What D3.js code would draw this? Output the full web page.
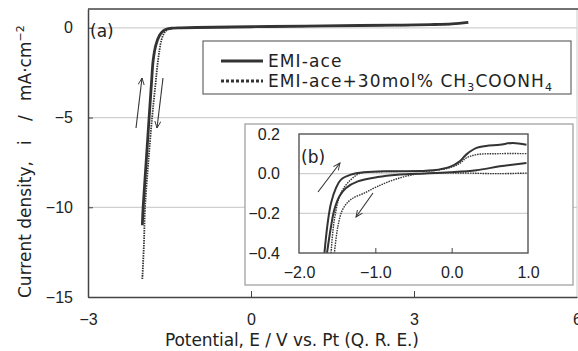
<!DOCTYPE html>
<html>
<head>
<meta charset="utf-8">
<script src="https://d3js.org/d3.v7.min.js"></script>
<style>
  body { margin: 0; background: #fff; }
  text { font-family: "DejaVu Sans", sans-serif; fill: #222; }
</style>
</head>
<body>
<svg id="chart" width="578" height="351"></svg>
<script>
// main plot (a) : cyclic voltammograms
var mainTicksX = [-3, 0, 3, 6];
var mainTicksY = [0, -5, -10, -15];
var solidE = [-2.00, -1.985, -1.93, -1.875, -1.83, -1.80, -1.75, -1.68, -1.62, -1.55, -1.45, -1.3, -1.0, 0, 1, 2, 2.7, 3.3, 3.7, 4.0];
var solidI = [-11, -10, -7.5, -5, -3, -1.8, -0.95, -0.4, -0.18, -0.07, -0.02, 0.0, 0.02, 0.06, 0.1, 0.13, 0.15, 0.18, 0.22, 0.3];
var dotE = [-2.00, -1.97, -1.95, -1.89, -1.82, -1.76, -1.71, -1.65, -1.6, -1.56, -1.5, -1.4, -1.2, -1.0, 0, 1, 2, 3, 3.5, 3.8];
var dotI = [-14, -12, -10, -7.5, -5, -3.2, -1.8, -0.7, -0.3, -0.15, -0.05, -0.01, 0.0, 0.01, 0.05, 0.09, 0.12, 0.15, 0.18, 0.22];

// inset (b)
var insetTicksX = [-2, -1, 0, 1];
var insetTicksY = [0.2, 0.0, -0.2, -0.4];
var sFwdE = [-1.667, -1.624, -1.58, -1.515, -1.45, -1.32, -1.14, -0.88, -0.68, -0.24, -0.025, 0.106, 0.19, 0.325, 0.45, 0.63, 0.8, 0.98];
var sFwdI = [-0.4, -0.248, -0.148, -0.072, -0.03, -0.005, 0.007, 0.012, 0.012, 0.017, 0.034, 0.062, 0.096, 0.13, 0.14, 0.146, 0.155, 0.146];
var sRevE = [0.98, 0.63, 0.325, -0.025, -0.46, -0.71, -0.97, -1.23, -1.384, -1.47, -1.536, -1.58, -1.633];
var sRevI = [0.054, 0.037, 0.017, 0.007, 0.0, -0.005, -0.017, -0.039, -0.072, -0.114, -0.18, -0.265, -0.4];
var dFwdE = [-1.58, -1.536, -1.45, -1.32, -1.19, -0.9, -0.5, -0.24, -0.025, 0.1, 0.19, 0.325, 0.63, 0.98];
var dFwdI = [-0.4, -0.23, -0.097, -0.03, 0.003, 0.01, 0.012, 0.015, 0.03, 0.05, 0.079, 0.096, 0.101, 0.101];
var dRevE = [0.98, 0.6, 0.19, -0.24, -0.5, -0.75, -0.97, -1.14, -1.32, -1.427, -1.49, -1.536];
var dRevI = [0.003, 0.0, 0.003, 0.003, -0.005, -0.03, -0.064, -0.097, -0.13, -0.18, -0.265, -0.4];

var legendLabels = ["EMI-ace", "EMI-ace+30mol% CH"];

function zip(a, b) { return a.map(function(v, i) { return [v, b[i]]; }); }

var svg = d3.select("#chart");
var ink = "#333";
var tickFont = "'Liberation Sans', Arial, sans-serif";

// ---- main plot ----
var m = {left: 88, top: 9, right: 577, bottom: 297};
var x = d3.scaleLinear().domain([-3, 6]).range([m.left, m.right]);
var y = d3.scaleLinear().domain([-15, 1.05]).range([m.bottom, m.top]);

svg.append("defs").append("marker")
  .attr("id", "arr").attr("viewBox", "0 0 10 10")
  .attr("refX", 9).attr("refY", 5)
  .attr("markerWidth", 7).attr("markerHeight", 7)
  .attr("orient", "auto")
  .append("path").attr("d", "M0,1 L9,5 L0,9")
  .attr("fill", "none").attr("stroke", ink).attr("stroke-width", 1.2);

// grid
svg.append("g").selectAll("line")
  .data(mainTicksY.filter(function(d) { return d > -15; }))
  .enter().append("line")
  .attr("x1", m.left).attr("x2", m.right)
  .attr("y1", function(d) { return y(d); }).attr("y2", function(d) { return y(d); })
  .attr("stroke", "#d0d0d0").attr("stroke-width", 1.2);

// frame
svg.append("line").attr("x1", m.right).attr("x2", m.right).attr("y1", m.top).attr("y2", m.bottom)
  .attr("stroke", "#ccc");
svg.append("line").attr("x1", m.left).attr("x2", 578).attr("y1", m.top).attr("y2", m.top)
  .attr("stroke", "#444").attr("stroke-width", 1.5);

var yAxis = svg.append("g").attr("transform", "translate(" + m.left + ",0)")
  .call(d3.axisLeft(y).tickValues(mainTicksY).tickSizeInner(-5).tickSizeOuter(0).tickPadding(15));
var xAxis = svg.append("g").attr("transform", "translate(0," + m.bottom + ")")
  .call(d3.axisBottom(x).tickValues(mainTicksX).tickSizeInner(-6).tickSizeOuter(0).tickPadding(17));
[yAxis, xAxis].forEach(function(g) {
  g.select(".domain").attr("stroke", "#444").attr("stroke-width", 1.5);
  g.selectAll(".tick line").attr("stroke", "#444");
  g.selectAll(".tick text").attr("font-size", 16).attr("fill", "#222")
    .style("font-family", tickFont);
});
xAxis.selectAll(".tick line").filter(function(d) { return d === -3 || d === 6; }).remove();

var line = d3.line().x(function(d) { return x(d[0]); }).y(function(d) { return y(d[1]); })
  .curve(d3.curveCatmullRom.alpha(0.5));

svg.append("path").datum(zip(dotE, dotI)).attr("d", line)
  .attr("fill", "none").attr("stroke", ink).attr("stroke-width", 1.8).attr("stroke-dasharray", "1.5,1");
svg.append("path").datum(zip(solidE, solidI)).attr("d", line)
  .attr("fill", "none").attr("stroke", ink).attr("stroke-width", 2.8);

// scan arrows
svg.append("line").attr("x1", 136).attr("y1", 128).attr("x2", 142).attr("y2", 78)
  .attr("stroke", ink).attr("stroke-width", 1.1).attr("marker-end", "url(#arr)");
svg.append("line").attr("x1", 163).attr("y1", 78).attr("x2", 157).attr("y2", 128)
  .attr("stroke", ink).attr("stroke-width", 1.1).attr("marker-end", "url(#arr)");

svg.append("text").attr("x", 90).attr("y", 37).attr("font-size", 17).text("(a)");

// axis titles
svg.append("text").attr("x", 292).attr("y", 346).attr("text-anchor", "middle")
  .attr("font-size", 17).attr("textLength", 254).attr("lengthAdjust", "spacing")
  .text("Potential, E / V vs. Pt (Q. R. E.)");
var yl = svg.append("text").attr("transform", "translate(31,0) rotate(-90)")
  .attr("font-size", 17);
yl.append("tspan").attr("x", -298).text("Current density,");
yl.append("tspan").attr("x", -145).text("i");
yl.append("tspan").attr("x", -121).text("/");
yl.append("tspan").attr("x", -101).text("mA·cm");
yl.append("tspan").attr("font-size", 11).attr("dy", -7).text("−2");

// legend
var lg = svg.append("g");
lg.append("rect").attr("x", 203).attr("y", 41).attr("width", 368).attr("height", 53)
  .attr("fill", "#fff").attr("stroke", "#666").attr("stroke-width", 1.2);
lg.append("line").attr("x1", 221).attr("x2", 263).attr("y1", 61).attr("y2", 61)
  .attr("stroke", ink).attr("stroke-width", 3);
lg.append("line").attr("x1", 221).attr("x2", 263).attr("y1", 81).attr("y2", 81)
  .attr("stroke", ink).attr("stroke-width", 3).attr("stroke-dasharray", "3,2");
lg.append("text").attr("x", 268).attr("y", 67).attr("font-size", 17)
  .attr("letter-spacing", 1.1).text(legendLabels[0]);
var t2 = lg.append("text").attr("x", 268).attr("y", 87).attr("font-size", 17)
  .attr("letter-spacing", 1.1);
t2.append("tspan").text(legendLabels[1]);
t2.append("tspan").attr("font-size", 11).attr("dy", 4).text("3");
t2.append("tspan").attr("dy", -4).text("COONH");
t2.append("tspan").attr("font-size", 11).attr("dy", 4).text("4");

// ---- inset ----
var b = {left: 299, top: 134, right: 528, bottom: 253};
svg.append("rect").attr("x", 245).attr("y", 124).attr("width", 328).attr("height", 161)
  .attr("fill", "#fff").attr("stroke", "#999").attr("stroke-width", 1.2);
var xi = d3.scaleLinear().domain([-2, 1]).range([b.left, b.right]);
var yi = d3.scaleLinear().domain([-0.4, 0.2]).range([b.bottom, b.top]);

svg.append("g").selectAll("line")
  .data([0.0, -0.2]).enter().append("line")
  .attr("x1", b.left).attr("x2", b.right)
  .attr("y1", function(d) { return yi(d); }).attr("y2", function(d) { return yi(d); })
  .attr("stroke", "#d0d0d0").attr("stroke-width", 1.2);

svg.append("clipPath").attr("id", "clipb").append("rect")
  .attr("x", b.left).attr("y", b.top).attr("width", b.right - b.left).attr("height", b.bottom - b.top);

var li = d3.line().x(function(d) { return xi(d[0]); }).y(function(d) { return yi(d[1]); })
  .curve(d3.curveCatmullRom.alpha(0.5));
var gi = svg.append("g").attr("clip-path", "url(#clipb)");
[[dFwdE, dFwdI], [dRevE, dRevI]].forEach(function(s) {
  gi.append("path").datum(zip(s[0], s[1])).attr("d", li)
    .attr("fill", "none").attr("stroke", ink).attr("stroke-width", 1.4).attr("stroke-dasharray", "1.5,1");
});
[[sFwdE, sFwdI], [sRevE, sRevI]].forEach(function(s) {
  gi.append("path").datum(zip(s[0], s[1])).attr("d", li)
    .attr("fill", "none").attr("stroke", ink).attr("stroke-width", 2);
});

svg.append("rect").attr("x", b.left).attr("y", b.top)
  .attr("width", b.right - b.left).attr("height", b.bottom - b.top)
  .attr("fill", "none").attr("stroke", "#555").attr("stroke-width", 1.4);

var yiAxis = svg.append("g").attr("transform", "translate(" + b.left + ",0)")
  .call(d3.axisLeft(yi).tickValues(insetTicksY).tickFormat(d3.format(".1f")).tickSize(0).tickPadding(19));
var xiAxis = svg.append("g").attr("transform", "translate(0," + b.bottom + ")")
  .call(d3.axisBottom(xi).tickValues(insetTicksX).tickFormat(d3.format(".1f")).tickSizeInner(-5).tickSizeOuter(0).tickPadding(14));
[yiAxis, xiAxis].forEach(function(g) {
  g.select(".domain").remove();
  g.selectAll(".tick line").attr("stroke", "#444");
  g.selectAll(".tick text").attr("font-size", 16).attr("fill", "#222")
    .style("font-family", tickFont);
});
xiAxis.selectAll(".tick line").filter(function(d) { return d === -2 || d === 1; }).remove();

svg.append("line").attr("x1", 318).attr("y1", 192).attr("x2", 340).attr("y2", 163)
  .attr("stroke", ink).attr("stroke-width", 1.1).attr("marker-end", "url(#arr)");
svg.append("line").attr("x1", 373).attr("y1", 193).attr("x2", 356).attr("y2", 217)
  .attr("stroke", ink).attr("stroke-width", 1.1).attr("marker-end", "url(#arr)");
svg.append("text").attr("x", 301).attr("y", 163).attr("font-size", 17).text("(b)");
</script>
</body>
</html>
